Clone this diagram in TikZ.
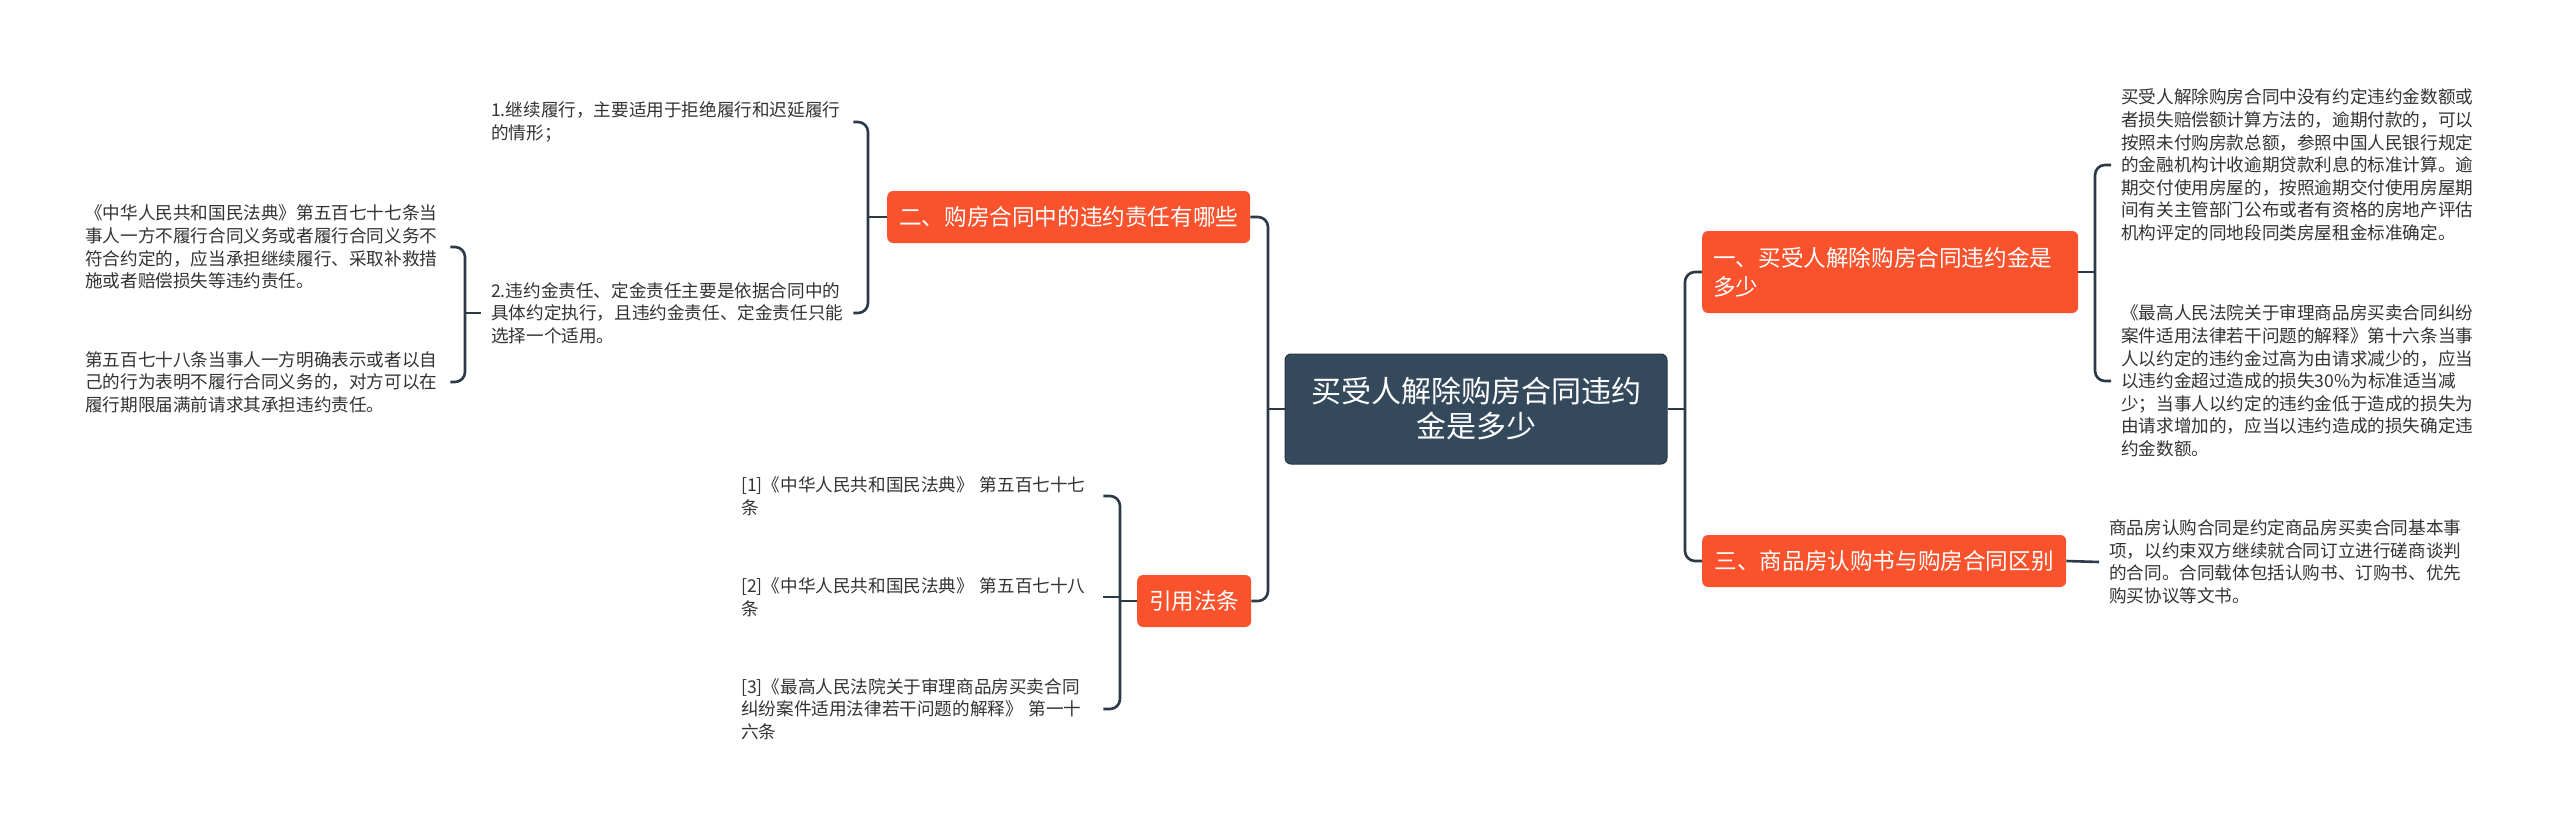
\documentclass[tikz,border=0pt]{standalone}
\usepackage{fontspec}
\setmainfont{Noto Sans CJK SC}
\definecolor{darkc}{RGB}{53,73,92}
\definecolor{orangec}{RGB}{250,82,44}
\definecolor{linec}{RGB}{44,58,72}
\definecolor{leafc}{RGB}{51,51,51}
\begin{document}
\begin{tikzpicture}[x=1pt,y=-1pt,
  conn/.style={draw=linec, line width=2.6pt, rounded corners=10pt},
  centralbox/.style={fill=darkc, draw=darkc!75!black, line width=1pt, rounded corners=6pt, text=white,
    font=\fontsize{30}{35}\selectfont, align=center, minimum width=382pt, minimum height=110pt, inner sep=0pt},
  branch/.style={fill=orangec, rounded corners=6pt, text=white, font=\fontsize{22.6}{29}\selectfont,
    inner xsep=0pt, inner ysep=0pt, minimum height=52pt, anchor=west},
  leaf/.style={text=leafc, font=\fontsize{17.6}{22.6}\selectfont, align=left, text width=#1,
    inner xsep=10pt, inner ysep=2pt, anchor=west}
]
\useasboundingbox (0,0) rectangle (2560,827);
\fill[white] (0,0) rectangle (2560,827);

% central
\node[centralbox] (c) at (1476,409) {买受人解除购房合同违约\\金是多少};

% branches
\node[branch, minimum width=376pt, minimum height=82pt, text width=354pt, align=left, inner xsep=11pt] (n1) at (1702,272) {一、买受人解除购房合同违约金是\\多少};
\node[branch, minimum width=364pt] (n3) at (1702,561) {三、商品房认购书与购房合同区别};
\node[branch, minimum width=363pt] (n2) at (887,217) {二、购房合同中的违约责任有哪些};
\node[branch, minimum width=114pt] (n4) at (1137,601) {引用法条};

% right leaves
\node[leaf=360pt] (l1) at (2111,165) {买受人解除购房合同中没有约定违约金数额或\\者损失赔偿额计算方法的，逾期付款的，可以\\按照未付购房款总额，参照中国人民银行规定\\的金融机构计收逾期贷款利息的标准计算。逾\\期交付使用房屋的，按照逾期交付使用房屋期\\间有关主管部门公布或者有资格的房地产评估\\机构评定的同地段同类房屋租金标准确定。};
\node[leaf=360pt] (l2) at (2111,381) {《最高人民法院关于审理商品房买卖合同纠纷\\案件适用法律若干问题的解释》第十六条当事\\人以约定的违约金过高为由请求减少的，应当\\以违约金超过造成的损失30\%为标准适当减\\少；当事人以约定的违约金低于造成的损失为\\由请求增加的，应当以违约造成的损失确定违\\约金数额。};
\node[leaf=360pt] (l3) at (2099,562) {商品房认购合同是约定商品房买卖合同基本事\\项，以约束双方继续就合同订立进行磋商谈判\\的合同。合同载体包括认购书、订购书、优先\\购买协议等文书。};

% left leaves
\node[leaf=352pt] (a1) at (481,122) {1.继续履行，主要适用于拒绝履行和迟延履行\\的情形；};
\node[leaf=352pt] (a2) at (481,313) {2.违约金责任、定金责任主要是依据合同中的\\具体约定执行，且违约金责任、定金责任只能\\选择一个适用。};
\node[leaf=355pt] (b1) at (75,247) {《中华人民共和国民法典》第五百七十七条当\\事人一方不履行合同义务或者履行合同义务不\\符合约定的，应当承担继续履行、采取补救措\\施或者赔偿损失等违约责任。};
\node[leaf=355pt] (b2) at (75,382) {第五百七十八条当事人一方明确表示或者以自\\己的行为表明不履行合同义务的，对方可以在\\履行期限届满前请求其承担违约责任。};
\node[leaf=352pt] (r1) at (731,496) {[1]《中华人民共和国民法典》 第五百七十七\\条};
\node[leaf=352pt] (r2) at (731,597) {[2]《中华人民共和国民法典》 第五百七十八\\条};
\node[leaf=352pt] (r3) at (731,709) {[3]《最高人民法院关于审理商品房买卖合同\\纠纷案件适用法律若干问题的解释》 第一十\\六条};

% junctions
\coordinate (jR) at (1685,409);
\coordinate (j1) at (2095,272);
\coordinate (jL) at (1268,409);
\coordinate (j2) at (868,217);
\coordinate (ja) at (465,313);
\coordinate (j4) at (1120,601);

% connectors
\draw[conn] (c.east) -- (jR);
\draw[conn] (n1.west) -| (jR) |- (n3.west);
\draw[conn] (n1.east) -- (j1);
\draw[conn] (l1.west) -| (j1) |- (l2.west);
\draw[conn] (n3.east) -- (l3.west);

\draw[conn] (c.west) -- (jL);
\draw[conn] (n2.east) -| (jL) |- (n4.east);
\draw[conn] (n2.west) -- (j2);
\draw[conn] (a1.east) -| (j2) |- (a2.east);
\draw[conn] (a2.west) -- (ja);
\draw[conn] (b1.east) -| (ja) |- (b2.east);
\draw[conn] (n4.west) -- (j4);
\draw[conn] (r1.east) -| (j4) |- (r3.east);
\draw[conn] (r2.east) -- (r2.east -| j4);
\end{tikzpicture}
\end{document}
